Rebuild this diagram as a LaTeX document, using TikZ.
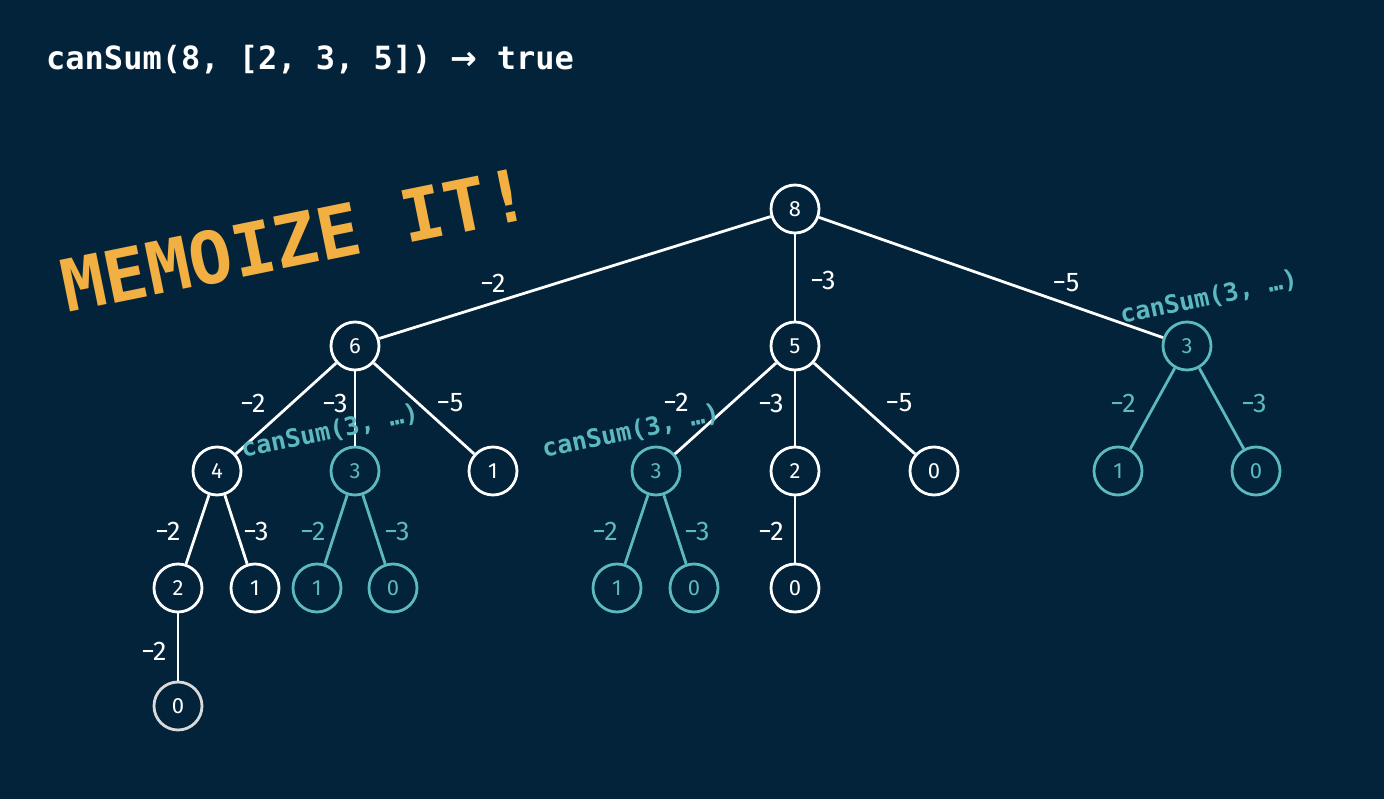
\documentclass[tikz,border=0pt]{standalone}
\usepackage{fontspec}
\setmainfont{Fira Sans}
\setmonofont{DejaVu Sans Mono}
\newfontfamily\arrowfont{DejaVu Sans}
\definecolor{bg}{HTML}{03233A}
\definecolor{teal1}{HTML}{5CB9C0}
\definecolor{orange1}{HTML}{F2AF42}
\definecolor{gray1}{HTML}{D9D9D9}
\begin{document}
\begin{tikzpicture}[x=1pt,y=-1pt,
  wn/.style={circle,draw=white,fill=bg,line width=2.8pt,minimum size=48pt,inner sep=0pt,text=white,font=\fontsize{22}{22}\selectfont},
  tn/.style={wn,draw=teal1,text=teal1},
  wl/.style={text=white,inner sep=0pt,font=\fontsize{27}{27}\selectfont},
  tl/.style={wl,text=teal1},
  we/.style={draw=white,line width=2.8pt},
  te/.style={we,draw=teal1},
  memo/.style={text=teal1,inner sep=0pt,anchor=base west,rotate=12,font=\ttfamily\bfseries\fontsize{25}{25}\selectfont}]
\fill[bg] (0,0) rectangle (1384,799);
\useasboundingbox (0,0) rectangle (1384,799);

\node[anchor=base west,inner sep=0pt,text=white,font=\ttfamily\bfseries\fontsize{32}{32}\selectfont] (title) at (46,70) {canSum(8, [2, 3, 5]) {\arrowfont\bfseries →} true};
\node[anchor=base west,inner sep=0pt,rotate=11.5,text=orange1,font=\ttfamily\bfseries\fontsize{72}{72}\selectfont] (memoize) at (67,313) {MEMOIZE IT!};

% nodes
\node[wn] (n8) at (795,209) {8};
\node[wn] (n6) at (355,346) {6};
\node[wn] (n5) at (795,346) {5};
\node[tn] (n3r) at (1187,346) {3};
\node[wn] (n4) at (217,471) {4};
\node[tn] (n3a) at (355,471) {3};
\node[wn] (n1a) at (493,471) {1};
\node[tn] (n3b) at (656,471) {3};
\node[wn] (n2b) at (795,471) {2};
\node[wn] (n0b) at (934,471) {0};
\node[tn] (n1r) at (1118,471) {1};
\node[tn] (n0r) at (1256,471) {0};
\node[wn] (n2a) at (178,588) {2};
\node[wn] (n1c) at (255,588) {1};
\node[tn] (n1d) at (317,588) {1};
\node[tn] (n0d) at (393,588) {0};
\node[tn] (n1e) at (617,588) {1};
\node[tn] (n0e) at (694,588) {0};
\node[wn] (n0f) at (795,588) {0};
\node[wn,draw=gray1] (n0g) at (178,706) {0};

% edges
\draw[we] (n8) -- (n6);
\draw[we] (n8) -- (n5);
\draw[we] (n8) -- (n3r);
\draw[we] (n6) -- (n4);
\draw[we] (n6) -- (n3a);
\draw[we] (n6) -- (n1a);
\draw[we] (n5) -- (n3b);
\draw[we] (n5) -- (n2b);
\draw[we] (n5) -- (n0b);
\draw[te] (n3r) -- (n1r);
\draw[te] (n3r) -- (n0r);
\draw[we] (n4) -- (n2a);
\draw[we] (n4) -- (n1c);
\draw[te] (n3a) -- (n1d);
\draw[te] (n3a) -- (n0d);
\draw[te] (n3b) -- (n1e);
\draw[te] (n3b) -- (n0e);
\draw[we] (n2b) -- (n0f);
\draw[we] (n2a) -- (n0g);

% edge labels
\node[wl] (l1) at (493,283) {−2};
\node[wl] (l2) at (823,280) {−3};
\node[wl] (l3) at (1066,283) {−5};
\node[wl] (l4) at (253,403) {−2};
\node[wl] (l5) at (335,403) {−3};
\node[wl] (l6) at (450,403) {−5};
\node[wl] (l7) at (676,402) {−2};
\node[wl] (l8) at (771,403) {−3};
\node[wl] (l9) at (899,403) {−5};
\node[tl] (l10) at (1123,403) {−2};
\node[tl] (l11) at (1254,403) {−3};
\node[wl] (l12) at (168,531) {−2};
\node[wl] (l13) at (256,531) {−3};
\node[tl] (l14) at (313,531) {−2};
\node[tl] (l15) at (397,531) {−3};
\node[tl] (l16) at (605,531) {−2};
\node[tl] (l17) at (697,531) {−3};
\node[wl] (l18) at (771,531) {−2};
\node[wl] (l19) at (154,651) {−2};

% memo labels
\node[memo] (m1) at (243,458) {canSum(3, …)};
\node[memo] (m2) at (544,458) {canSum(3, …)};
\node[memo] (m3) at (1122,324) {canSum(3, …)};
\end{tikzpicture}
\end{document}
